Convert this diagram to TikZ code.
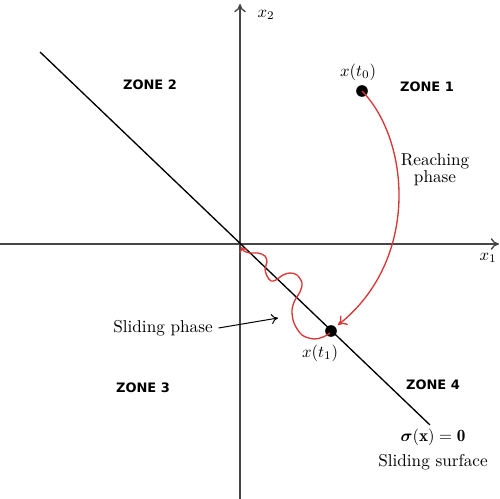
\documentclass[tikz,border=0pt]{standalone}
\usepackage{fontspec}
\usepackage{amsmath,bm}
\newfontfamily\zonefont{DejaVu Sans}
\usetikzlibrary{arrows.meta}
\definecolor{axisgray}{RGB}{70,70,70}
\definecolor{curvered}{RGB}{215,55,55}
\begin{document}
\begin{tikzpicture}[x=0.6pt,y=-0.6pt,
  axis/.style={draw=axisgray,line width=0.8pt},
  zone/.style={font=\zonefont\bfseries\fontsize{7.8}{8}\selectfont},
  lbl/.style={font=\fontsize{10.3}{12}\selectfont},
  dotpt/.style={circle,fill=black,inner sep=0pt,minimum size=7pt},
  redpath/.style={draw=curvered,line width=0.8pt}]
\useasboundingbox (0,0) rectangle (500,499);
% axes
\coordinate (xl) at (0,244);
\coordinate (xr) at (499,244);
\coordinate (yb) at (240,499);
\coordinate (yt) at (240,4);
\draw[axis,-{To[length=5pt,width=7pt]}] (xl) -- (xr);
\draw[axis,-{To[length=5pt,width=7pt]}] (yb) -- (yt);
\node[lbl] (x1) at (488,258) {$x_1$};
\node[lbl] (x2) at (266,15) {$x_2$};
% sliding surface
\coordinate (s1) at (40,52);
\coordinate (s2) at (430,425);
\draw[black,line width=0.8pt] (s1) -- (s2);
% points
\node[dotpt] (t0) at (362,91) {};
\node[dotpt] (t1) at (331,331) {};
\node[lbl] (t0l) at (358,72) {$x(t_0)$};
\node[lbl] (t1l) at (320,353) {$x(t_1)$};
% reaching phase
\draw[redpath,-{To[length=5pt,width=7pt]}] (t0.center) .. controls (410,140) and (420,260) .. (338,325);
\node[lbl,align=center] (reach) at (435,170) {Reaching\\[-2pt]phase};
% sliding phase
\draw[redpath,-{To[length=3pt,width=5pt]}] plot[smooth,tension=0.55] coordinates {(330,333) (323,337) (314,339) (302,335) (294,323) (292,310) (295,300) (300,292) (302,283) (297,275) (290,273) (283,275) (276,280) (271,281) (267,276) (265,269) (267,262) (265,256) (258,253) (250,253) (244,251) (241,247)};
\node[lbl] (slide) at (163,328) {Sliding phase};
\draw[black,line width=0.6pt,-{To[length=4pt,width=6pt]}] (slide.east) -- (278,318);
% surface label
\node[lbl] (sig) at (433,437) {$\boldsymbol{\sigma}(\mathbf{x}) = \mathbf{0}$};
\node[lbl] (surf) at (433,462) {Sliding surface};
% zones
\node[zone] (z1) at (427,87) {ZONE 1};
\node[zone] (z2) at (150,85) {ZONE 2};
\node[zone] (z3) at (143,388) {ZONE 3};
\node[zone] (z4) at (433,385) {ZONE 4};
\end{tikzpicture}
\end{document}
